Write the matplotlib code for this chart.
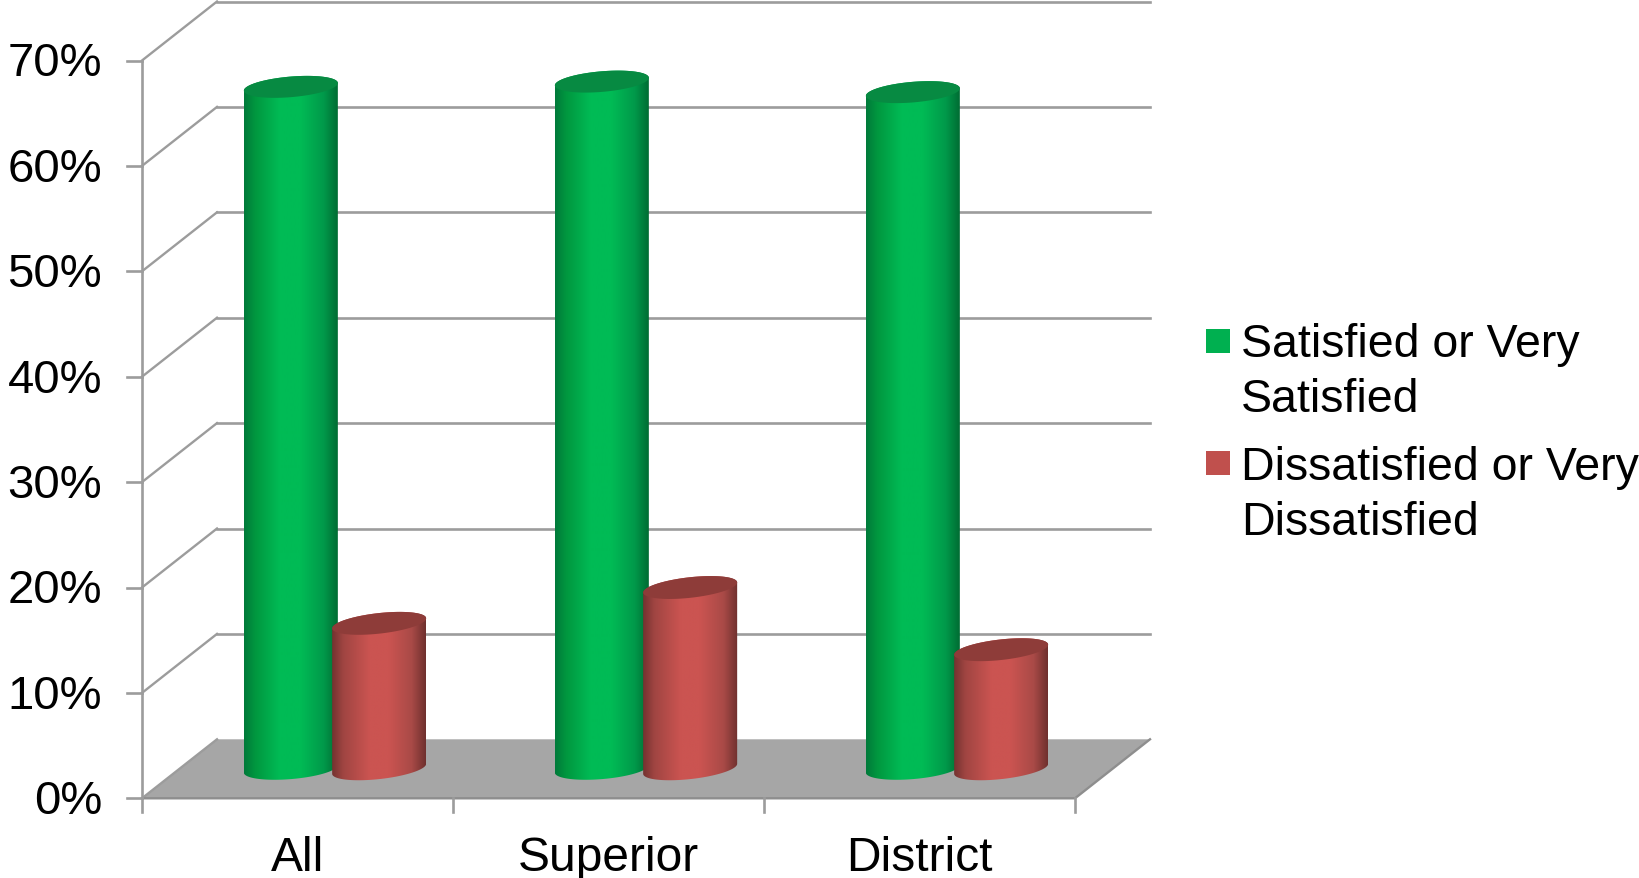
import numpy as np
import matplotlib
matplotlib.use("Agg")
import matplotlib.pyplot as plt
from matplotlib.patches import Polygon, Rectangle

categories = ["All", "Superior", "District"]
satisfied = [64.7, 65.2, 64.2]
dissatisfied = [13.8, 17.2, 11.3]
y_ticks = [0, 10, 20, 30, 40, 50, 60, 70]
y_labels = ["0%", "10%", "20%", "30%", "40%", "50%", "60%", "70%"]
legend_labels = ["Satisfied or Very\nSatisfied", "Dissatisfied or Very\nDissatisfied"]

W, H = 1640, 879
X_PX = 311.0      # one category in pixels
Y_PX = 10.54      # one percent in pixels
X0_PX, Y0_PX = 142.0, 799.3
DEPTH_X = 75 / X_PX
DEPTH_Y = 59 / Y_PX
GRID = "#9c9c9c"
FLOOR = "#a6a6a6"
FONT = "Liberation Sans"

fig = plt.figure(figsize=(W / 100, H / 100), dpi=100)
ax = fig.add_axes([0, 0, 1, 1])
ax.set_xlim(-X0_PX / X_PX, (W - X0_PX) / X_PX)
ax.set_ylim((Y0_PX - H) / Y_PX, Y0_PX / Y_PX)
ax.axis("off")
ncat = len(categories)


def px_x(p):
    return (p - X0_PX) / X_PX


def px_y(p):
    return (Y0_PX - p) / Y_PX


def cylinder(cx, top, half_w, shear, stops, top_color, z):
    """Oblique cylinder standing on the floor at mid depth."""
    x = cx + DEPTH_X * 0.5
    base = DEPTH_Y * 0.5
    b = 10.3 / Y_PX
    s = shear / Y_PX
    t_low = np.linspace(np.pi, 2 * np.pi, 80)
    t_up = np.linspace(0, np.pi, 80)
    lower = np.c_[x + half_w * np.cos(t_low), base + s * np.cos(t_low) + b * np.sin(t_low)]
    upper = np.c_[x + half_w * np.cos(t_up), base + top + s * np.cos(t_up) + b * np.sin(t_up)]
    body = Polygon(np.r_[lower, upper], closed=True, transform=ax.transData, fc="none", ec="none")
    ax.add_patch(body)

    # horizontal shading across the cylinder
    pos = np.linspace(0, 1, 256)
    grad = np.stack([np.interp(pos, stops[0], [c[i] for c in stops[1]]) for i in range(3)], axis=-1)
    im = ax.imshow(grad[np.newaxis, :, :],
                   extent=(x - half_w, x + half_w, base - 2 * b, base + top + 2 * b),
                   aspect="auto", interpolation="bilinear", zorder=z)
    im.set_clip_path(body)

    t = np.linspace(0, 2 * np.pi, 160)
    cap = np.c_[x + half_w * np.cos(t), base + top + s * np.cos(t) + b * np.sin(t)]
    ax.add_patch(Polygon(cap, closed=True, fc=top_color, ec="none", zorder=z + 0.1))


def rgb(h):
    return matplotlib.colors.to_rgb(h)


green_stops = ([0, 0.12, 0.38, 0.6, 0.85, 1],
               [rgb(c) for c in ("#007a3a", "#00973f", "#00bb55", "#00bb55", "#00994a", "#006c33")])
red_stops = ([0, 0.12, 0.4, 0.6, 0.85, 1],
             [rgb(c) for c in ("#743230", "#a04542", "#cb5451", "#cb5451", "#a94a47", "#6f302e")])

# floor
ax.add_patch(Polygon([(0, 0), (ncat, 0), (ncat + DEPTH_X, DEPTH_Y), (DEPTH_X, DEPTH_Y)],
                     closed=True, fc=FLOOR, ec="none", zorder=1))

# walls: grid lines run along the back and diagonally down the side
for v in y_ticks:
    ax.plot([0, DEPTH_X], [v, v + DEPTH_Y], color=GRID, lw=1.7, zorder=2)
    if v > 0:
        ax.plot([DEPTH_X, ncat + DEPTH_X], [v + DEPTH_Y, v + DEPTH_Y], color=GRID, lw=1.9, zorder=2)
ax.plot([0, 0], [0, 70], color=GRID, lw=1.9, zorder=2)
ax.plot([0, ncat, ncat + DEPTH_X], [0, 0, DEPTH_Y], color="#8e8e8e", lw=1.7, zorder=2)

# ticks and labels
tick_x = px_x(X0_PX - 15)
label_shift = 3 / Y_PX
for v, label in zip(y_ticks, y_labels):
    ax.plot([tick_x, 0], [v, v], color=GRID, lw=1.9, zorder=2)
    ax.text(px_x(102), v - label_shift, label, ha="right", va="center", fontsize=34, family=FONT, color="black")
tick_y = px_y(Y0_PX + 14)
for i in range(ncat + 1):
    ax.plot([i, i], [0, tick_y], color=GRID, lw=1.9, zorder=2)
for i, name in enumerate(categories):
    ax.text(i + 0.5, px_y(871), name, ha="center", va="baseline", fontsize=34.5, family=FONT, color="black")

# columns, green first so the red one sits in front of it
half_w = 47 / X_PX
for i in range(ncat):
    cylinder(i + 0.5 - 0.142, satisfied[i], half_w, 3.8, green_stops, "#078a42", 3 + i)
    cylinder(i + 0.5 + 0.142, dissatisfied[i], half_w, 5.0, red_stops, "#8e3c39", 3.5 + i)

# legend
for label, color, top, base in zip(legend_labels, ["#00b050", "#c0504d"], [330, 452], [357, 480]):
    ax.add_patch(Rectangle((px_x(1206), px_y(top + 24)), 24 / X_PX, 24 / Y_PX, fc=color, ec="none", zorder=2))
    for j, line in enumerate(label.split("\n")):
        ax.text(px_x(1241), px_y(base + j * 55), line, ha="left", va="baseline",
                fontsize=33.5, family=FONT, color="black")

ax.set_xlim(-X0_PX / X_PX, (W - X0_PX) / X_PX)
ax.set_ylim((Y0_PX - H) / Y_PX, Y0_PX / Y_PX)
fig.savefig("out.png", dpi=100, facecolor="white")
